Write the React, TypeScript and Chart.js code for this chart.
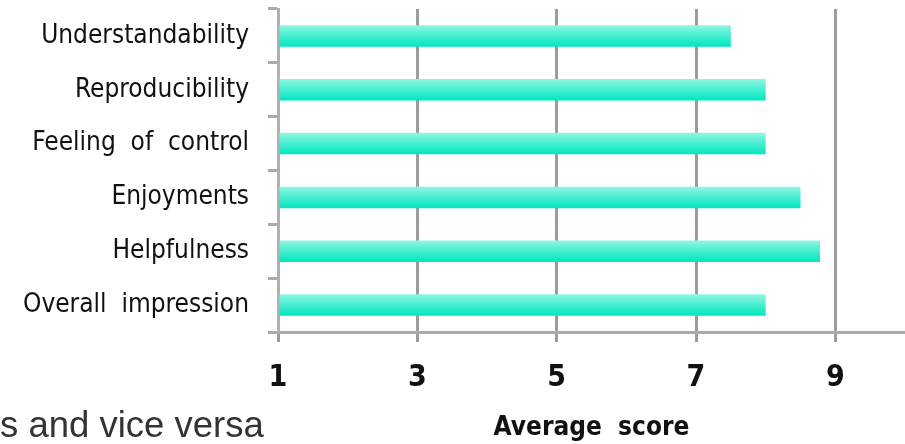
import React, { useEffect, useRef } from 'react';
import { Chart, registerables } from 'chart.js';

Chart.register(...registerables);

const categories = [
  'Understandability',
  'Reproducibility',
  'Feeling  of  control',
  'Enjoyments',
  'Helpfulness',
  'Overall  impression',
];
const scores = [7.5, 8.0, 8.0, 8.5, 8.78, 8.0];
const xTickValues = [1, 3, 5, 7, 9];
const xMin = 1;
const xMax = 10;
const axisTitle = 'Average  score';
const caption = 's and vice versa';

const FAMILY = '"DejaVu Sans Condensed", "DejaVu Sans", sans-serif';

export default function App() {
  const ref = useRef<HTMLCanvasElement>(null);

  useEffect(() => {
    const canvas = ref.current;
    if (!canvas) return;
    const barPct = 0.4;
    const chart = new Chart(canvas, {
      type: 'bar',
      data: {
        labels: categories,
        datasets: [
          {
            data: scores,
            base: xMin,
            barPercentage: barPct,
            categoryPercentage: 1,
            borderWidth: 0,
            backgroundColor: (c: any) => {
              const ch = c.chart;
              const ys = ch.scales?.y;
              if (!ys || c.dataIndex === undefined) return '#3eecc9';
              const cy = ys.getPixelForValue(c.dataIndex);
              const h = (ys.height / categories.length) * barPct;
              if (!isFinite(cy) || !isFinite(h) || h <= 0) return '#3eecc9';
              const g = ch.ctx.createLinearGradient(0, cy - h / 2, 0, cy + h / 2);
              g.addColorStop(0, '#90f7e1');
              g.addColorStop(0.5, '#45eed0');
              g.addColorStop(1, '#00e6bf');
              return g;
            },
          } as any,
        ],
      },
      options: {
        indexAxis: 'y',
        responsive: false,
        animation: false,
        devicePixelRatio: 1,
        layout: { padding: { top: 9, right: 0, bottom: 0, left: 0 } },
        plugins: {
          legend: { display: false },
          tooltip: { enabled: false },
        },
        scales: {
          x: {
            type: 'linear',
            min: xMin,
            max: xMax,
            afterBuildTicks: (s: any) => {
              s.ticks = xTickValues.map((v) => ({ value: v }));
            },
            afterFit: (s: any) => {
              s.height = 112;
              s.paddingLeft = 0;
              s.paddingRight = 0;
            },
            grid: {
              color: '#9c9c9c',
              lineWidth: 3,
              tickLength: 10,
              drawOnChartArea: true,
            },
            border: { display: true, color: '#ababab', width: 3 },
            ticks: {
              font: { family: FAMILY, weight: 'bold', size: 30 },
              color: '#111',
              padding: 18,
            },
            title: {
              display: true,
              text: axisTitle,
              font: { family: FAMILY, weight: 'bold', size: 26 },
              color: '#111',
              padding: { top: 0, bottom: 0 },
            },
          },
          y: {
            type: 'category',
            afterFit: (s: any) => {
              s.width = 278;
              s.paddingTop = 0;
              s.paddingBottom = 0;
            },
            grid: {
              drawOnChartArea: false,
              offset: true,
              color: '#ababab',
              lineWidth: 3,
              tickLength: 10,
            },
            border: { display: true, color: '#b0b0b0', width: 3 },
            ticks: {
              font: { family: FAMILY, size: 26 },
              color: '#111',
              padding: 19,
            },
          },
        },
      } as any,
    });
    return () => chart.destroy();
  }, []);

  return (
    <div style={{ position: 'absolute', left: 0, top: 0, width: 905, height: 444, background: '#fff', overflow: 'hidden' }}>
      <canvas ref={ref} width={905} height={444} style={{ display: 'block', width: 905, height: 444 }} />
      <div
        style={{
          position: 'absolute',
          left: 0,
          top: 407,
          fontFamily: '"Liberation Sans", Arial, sans-serif',
          fontSize: 36.5,
          lineHeight: '36px',
          color: '#333',
          whiteSpace: 'nowrap',
        }}
      >
        {caption}
      </div>
    </div>
  );
}
